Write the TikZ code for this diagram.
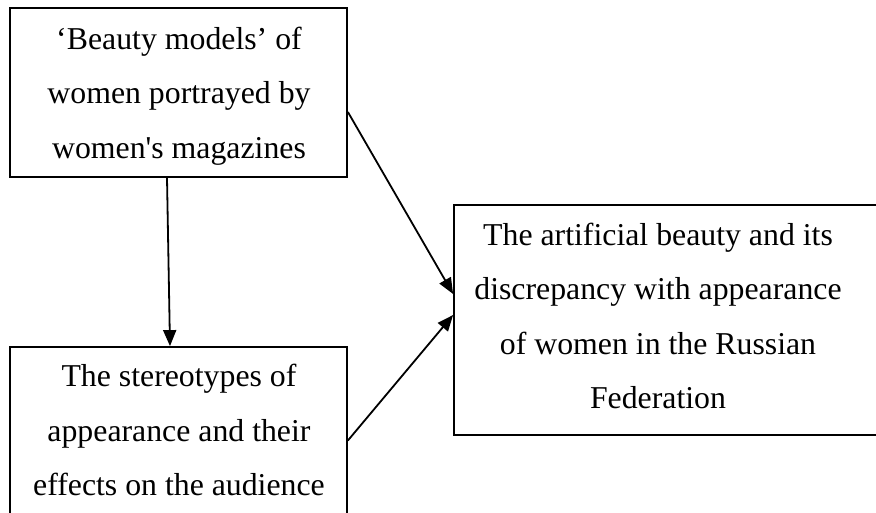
\documentclass[tikz,border=0pt]{standalone}
\usepackage{fontspec}
\setmainfont{Liberation Serif}[Ligatures=TeXOff]
\usetikzlibrary{arrows.meta}
\begin{document}
\begin{tikzpicture}[x=1pt,y=-1pt,
  frame/.style={draw=black,line width=1.8pt,inner sep=0pt},
  txt/.style={align=center,inner sep=0pt,font=\fontsize{31.8}{54.5}\selectfont},
  conn/.style={line width=1.8pt,-{Triangle[length=16pt,width=13pt]}}]
\useasboundingbox (0,0) rectangle (876,513);
% boxes
\node[frame,minimum width=337pt,minimum height=169pt] (A) at (178.5,92.5) {};
\node[frame,minimum width=337pt,minimum height=169pt] (B) at (178.5,431.5) {};
\node[frame,minimum width=440pt,minimum height=230pt] (C) at (674,320) {};
% texts
\node[txt] (At) at (179,96) {‘Beauty models’ of\\women portrayed by\\women's magazines};
\node[txt] (Bt) at (179,430) {The stereotypes of\\appearance and their\\effects on the audience};
\node[txt] (Ct) at (658,316) {The artificial beauty and its\\discrepancy with appearance\\of women in the Russian\\Federation};
% connectors
\draw[conn] ([xshift=-11.5pt]A.south) -- ([xshift=-8.5pt]B.north);
\draw[conn] ([yshift=-19.5pt]A.east) -- ([yshift=26pt]C.west);
\draw[conn] ([yshift=-9pt]B.east) -- ([yshift=5pt]C.west);
\end{tikzpicture}
\end{document}
